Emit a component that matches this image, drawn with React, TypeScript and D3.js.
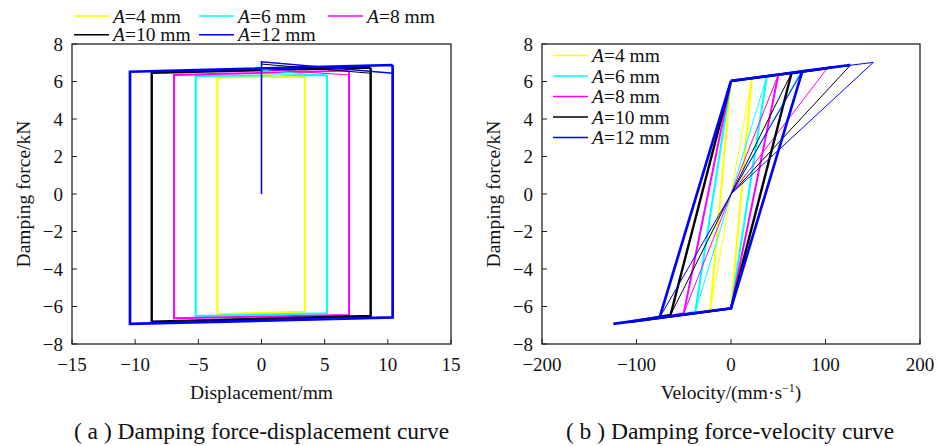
import React from 'react';
import * as d3 from 'd3';

// ---------------- data ----------------
const amplitudes = [4, 6, 8, 10, 12];
const seriesColors = ['#ffff00', '#00ffff', '#ff00ff', '#000000', '#0000ff'];

const yTicks = [-8, -6, -4, -2, 0, 2, 4, 6, 8];
const dispTicks = [-15, -10, -5, 0, 5, 10, 15];
const velTicks = [-200, -100, 0, 100, 200];

// (a) displacement loops: corner displacements (mm) and forces (kN)
const dispLeft = [-3.5, -5.21, -6.93, -8.69, -10.41];
const dispRight = [3.44, 5.18, 6.93, 8.64, 10.38];
const topLeftF = [6.22, 6.29, 6.35, 6.47, 6.52];
const topRightF = [6.26, 6.35, 6.58, 6.74, 6.88];
const botLeftF = [-6.4, -6.51, -6.63, -6.81, -6.93];
const botRightF = [-6.28, -6.36, -6.45, -6.51, -6.58];
const dispInitF = [6.37, 6.61, 6.65, 6.93, 7.05];
const dispInitEndF = [6.22, 6.29, 6.35, 6.44, 6.44];

// (b) velocity loops (mm/s) and forces (kN)
const velAmp = [22, 37.8, 50, 64, 75.5];
const velTopF = [6.19, 6.26, 6.35, 6.44, 6.55];
const velBotF = [-6.2, -6.28, -6.36, -6.45, -6.58];
const velPeakTopV = [34, 48, 82, 106, 126];
const velPeakBotV = [-45, -61, -79, -106, -124.5];
const velZeroTopF = 6.03;
const velZeroBotF = -6.1;
const velInitV = [50, 75, 101, 126, 150.6];
const velInitF = [6.37, 6.61, 6.65, 6.85, 7.02];

// ---------------- layout ----------------
const W = 938;
const H = 446;
const TOP = 44;
const BOTTOM = 344;
const FONT = '"Liberation Serif", "DejaVu Serif", serif';
const loopWidths = [2.1, 2.1, 2.0, 2.4, 2.7];

type Pt = [number, number];

const serif: React.CSSProperties = { fontFamily: FONT };

function Legend({ x, y, color, amp }: { x: number; y: number; color: string; amp: number }) {
  return (
    <g>
      <line x1={x} x2={x + 35} y1={y} y2={y} stroke={color} strokeWidth={1.5} />
      <text x={x + 39} y={y + 6.5} fontSize={19.5} style={serif} fill="#111">
        <tspan fontStyle="italic">A</tspan>={amp} mm
      </text>
    </g>
  );
}

function Axes({ x, y, ticks }: { x: d3.ScaleLinear<number, number>; y: d3.ScaleLinear<number, number>; ticks: number[] }) {
  const [x0, x1] = x.range();
  const minus = (v: number) => (v < 0 ? '\u2212' + Math.abs(v) : String(v));
  return (
    <g fontSize={19} fill="#111" style={serif}>
      {ticks.map((t) => (
        <g key={'x' + t}>
          <line x1={x(t)} x2={x(t)} y1={BOTTOM} y2={BOTTOM - 5} stroke="#222" strokeWidth={1} />
          <text x={x(t)} y={371} textAnchor="middle" style={serif}>{minus(t)}</text>
        </g>
      ))}
      {yTicks.map((t) => (
        <g key={'y' + t}>
          <line x1={x0} x2={x0 + 5} y1={y(t)} y2={y(t)} stroke="#222" strokeWidth={1} />
          <text x={x0 - 9} y={y(t) + 6.5} textAnchor="end" style={serif}>{minus(t)}</text>
        </g>
      ))}
      <rect x={x0} y={TOP} width={x1 - x0} height={BOTTOM - TOP} fill="none" stroke="#222" strokeWidth={1.3} />
    </g>
  );
}

export default function App() {
  const yScale = d3.scaleLinear().domain([-8, 8]).range([BOTTOM, TOP]);
  const xDisp = d3.scaleLinear().domain([-15, 15]).range([72, 451]);
  const xVel = d3.scaleLinear().domain([-200, 200]).range([542, 920]);

  const lineD = d3.line<Pt>().x((d) => xDisp(d[0])).y((d) => yScale(d[1]));
  const lineV = d3.line<Pt>().x((d) => xVel(d[0])).y((d) => yScale(d[1]));

  const dispLoops = amplitudes.map((_, i) => {
    const loop: Pt[] = [
      [dispRight[i], topRightF[i]],
      [dispRight[i], botRightF[i]],
      [dispLeft[i], botLeftF[i]],
      [dispLeft[i], topLeftF[i]],
      [dispRight[i], topRightF[i]],
    ];
    const init: Pt[] = [
      [0, 0],
      [0, dispInitF[i]],
      [dispRight[i], dispInitEndF[i]],
    ];
    return { loop, init };
  });

  const velLoops = amplitudes.map((_, i) => {
    const loop: Pt[] = [
      [0, velZeroTopF],
      [velPeakTopV[i], topRightF[i]],
      [velAmp[i], velTopF[i]],
      [0, velZeroBotF],
      [velPeakBotV[i], botLeftF[i]],
      [-velAmp[i], velBotF[i]],
      [0, velZeroTopF],
    ];
    const init: Pt[] = [
      [0, 0],
      [velInitV[i], velInitF[i]],
      [velAmp[i], velTopF[i]],
    ];
    const diag: Pt[] = [
      [-velAmp[i], velBotF[i]],
      [velAmp[i], velTopF[i]],
    ];
    return { loop, init, diag };
  });

  return (
    <svg width={W} height={H} style={{ position: 'absolute', left: 0, top: 0, background: '#fff' }}>
      <rect x={0} y={0} width={W} height={H} fill="#fff" />

      {/* ---- (a) ---- */}
      <g fill="none" strokeLinejoin="miter">
        {dispLoops.map((s, i) => (
          <path key={'dl' + i} d={lineD(s.loop) || ''} stroke={seriesColors[i]} strokeWidth={loopWidths[i]} />
        ))}
        {dispLoops.map((s, i) => (
          <path key={'di' + i} d={lineD(s.init) || ''} stroke={seriesColors[i]} strokeWidth={i === 4 ? 1.6 : 1} />
        ))}
      </g>
      <Axes x={xDisp} y={yScale} ticks={dispTicks} />
      <Legend x={74} y={16} color={seriesColors[0]} amp={amplitudes[0]} />
      <Legend x={199} y={16} color={seriesColors[1]} amp={amplitudes[1]} />
      <Legend x={328} y={16} color={seriesColors[2]} amp={amplitudes[2]} />
      <Legend x={74} y={34.7} color={seriesColors[3]} amp={amplitudes[3]} />
      <Legend x={199} y={34.7} color={seriesColors[4]} amp={amplitudes[4]} />
      <text x={23} y={194} transform="rotate(-90 23 194)" textAnchor="middle" dominantBaseline="central" style={serif} fontSize={19.5} fill="#111">
        Damping force/kN
      </text>
      <text x={261.5} y={399} textAnchor="middle" style={serif} fontSize={19.5} fill="#111">
        Displacement/mm
      </text>
      <text x={261.5} y={439} textAnchor="middle" style={serif} fontSize={23.5} fill="#111" xmlSpace="preserve">
        ( a ) Damping force-displacement curve
      </text>

      {/* ---- (b) ---- */}
      <g fill="none" strokeLinejoin="miter">
        {velLoops.map((s, i) => (
          <g key={'v' + i}>
            <path d={lineV(s.loop) || ''} stroke={seriesColors[i]} strokeWidth={loopWidths[i]} />
            <path d={lineV(s.init) || ''} stroke={seriesColors[i]} strokeWidth={1} />
            <path d={lineV(s.diag) || ''} stroke={seriesColors[i]} strokeWidth={1} />
          </g>
        ))}
      </g>
      <Axes x={xVel} y={yScale} ticks={velTicks} />
      {amplitudes.map((a, i) => (
        <Legend key={'lv' + i} x={553} y={55.5 + i * 20.5} color={seriesColors[i]} amp={a} />
      ))}
      <text x={493} y={194} transform="rotate(-90 493 194)" textAnchor="middle" dominantBaseline="central" style={serif} fontSize={19.5} fill="#111">
        Damping force/kN
      </text>
      <text x={731} y={399} textAnchor="middle" style={serif} fontSize={19.5} fill="#111">
        Velocity/(mm·s<tspan fontSize={12} dy={-7}>−1</tspan><tspan dy={7}>)</tspan>
      </text>
      <text x={730} y={439} textAnchor="middle" style={serif} fontSize={23.5} fill="#111" xmlSpace="preserve">
        ( b ) Damping force-velocity curve
      </text>
    </svg>
  );
}
